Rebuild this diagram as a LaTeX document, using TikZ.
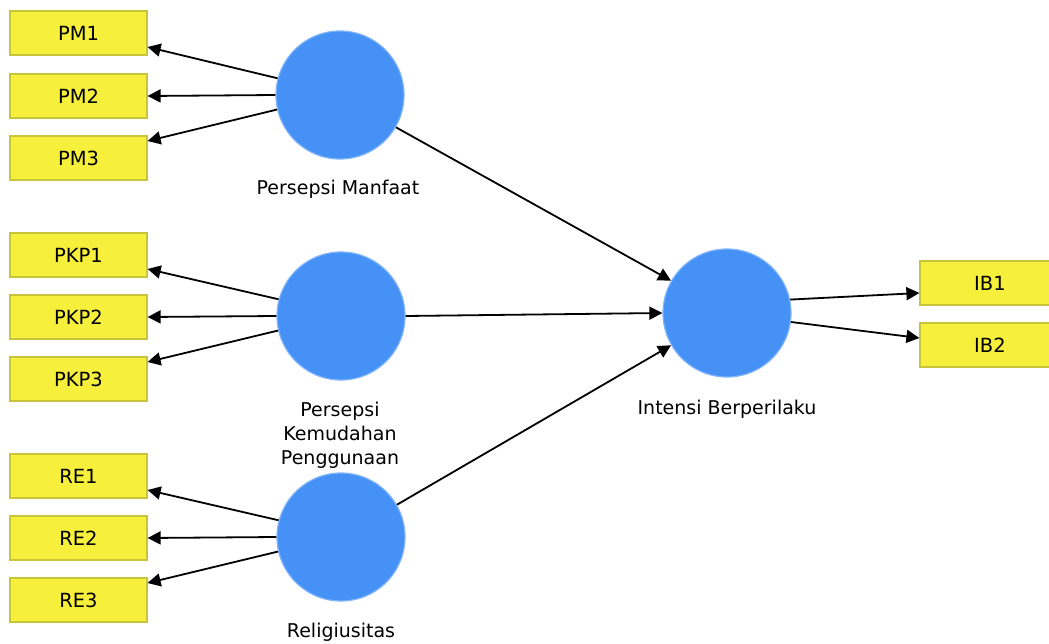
\documentclass[tikz,border=0pt]{standalone}
\usepackage{fontspec}
\setmainfont{DejaVu Sans}
\usetikzlibrary{arrows.meta}
\definecolor{boxfill}{RGB}{246,240,60}
\definecolor{boxline}{RGB}{200,196,60}
\definecolor{lvfill}{RGB}{69,145,245}
\definecolor{lvline}{RGB}{130,180,250}
\begin{document}
\begin{tikzpicture}[x=1pt,y=-1pt,
  ind/.style={draw=boxline,line width=1.2pt,fill=boxfill,minimum width=137pt,minimum height=44pt,inner sep=0pt,font=\fontsize{19.5}{22}\selectfont},
  lv/.style={circle,draw=lvline,line width=1.2pt,fill=lvfill,minimum size=128pt,inner sep=0pt},
  lab/.style={font=\fontsize{19}{24}\selectfont,align=center,inner sep=0pt},
  arr/.style={line width=1.8pt,-{Triangle[length=13pt,width=13pt]}}]
\useasboundingbox (0,0) rectangle (1049,643);
% indicators
\node[ind] (pm1) at (78.5,33) {PM1};
\node[ind] (pm2) at (78.5,96) {PM2};
\node[ind] (pm3) at (78.5,158) {PM3};
\node[ind] (pkp1) at (78.5,255) {PKP1};
\node[ind] (pkp2) at (78.5,317) {PKP2};
\node[ind] (pkp3) at (78.5,379) {PKP3};
\node[ind] (re1) at (78.5,476) {RE1};
\node[ind] (re2) at (78.5,538) {RE2};
\node[ind] (re3) at (78.5,600) {RE3};
\node[ind,minimum width=140pt] (ib1) at (990,283) {IB1};
\node[ind,minimum width=140pt] (ib2) at (990,345) {IB2};
% latent variables
\node[lv] (pm) at (340,95) {};
\node[lv] (pkp) at (341,316) {};
\node[lv] (re) at (341,537) {};
\node[lv] (ib) at (727,313) {};
% labels
\node[lab] (lpm) at (338,189) {Persepsi Manfaat};
\node[lab] (lpkp) at (340,435) {Persepsi\\Kemudahan\\Penggunaan};
\node[lab] (lre) at (341,632) {Religiusitas};
\node[lab] (lib) at (727,409) {Intensi Berperilaku};
% outer loadings
\draw[arr] (pm.165) -- ([yshift=-14pt]pm1.east);
\draw[arr] (pm.180) -- (pm2.east);
\draw[arr] (pm.193) -- ([yshift=17pt]pm3.east);
\draw[arr] (pkp.165) -- ([yshift=-14pt]pkp1.east);
\draw[arr] (pkp.180) -- (pkp2.east);
\draw[arr] (pkp.193) -- ([yshift=17pt]pkp3.east);
\draw[arr] (re.165) -- ([yshift=-14pt]re1.east);
\draw[arr] (re.180) -- (re2.east);
\draw[arr] (re.193) -- ([yshift=17pt]re3.east);
\draw[arr] (ib.12) -- ([yshift=-10pt]ib1.west);
\draw[arr] (ib.352) -- ([yshift=7pt]ib2.west);
% structural paths
\draw[arr] (pm.-30) -- (ib.150);
\draw[arr] (pkp.0) -- (ib.180);
\draw[arr] (re.30) -- (ib.210);
\end{tikzpicture}
\end{document}
